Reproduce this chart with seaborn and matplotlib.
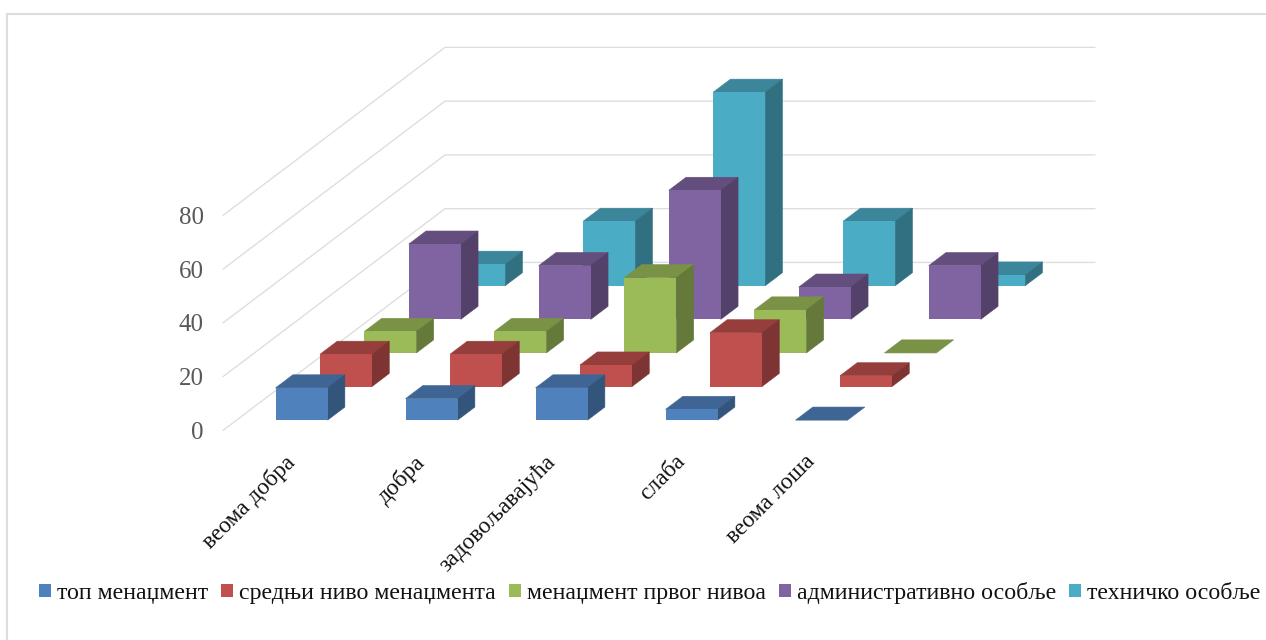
import numpy as np
import pandas as pd
import matplotlib
matplotlib.use("Agg")
import matplotlib.pyplot as plt
from matplotlib.patches import Patch, Rectangle
from matplotlib.transforms import ScaledTranslation
import seaborn as sns

categories = ["веома добра", "добра", "задовољавајућа", "слаба", "веома лоша"]
top_management = [12, 8, 12, 4, 0]
middle_management = [12, 12, 8, 20, 4]
first_level = [8, 8, 28, 16, 0]
admin_staff = [28, 20, 48, 12, 20]
technical_staff = [8, 24, 72, 24, 4]
series_names = ["топ менаџмент", "средњи ниво менаџмента", "менаџмент првог нивоа",
                "административно особље", "техничко особље"]
series_values = [top_management, middle_management, first_level, admin_staff, technical_staff]
series_colors = ["#4F81BD", "#C0504D", "#9BBB59", "#8064A2", "#4BACC6"]
y_ticks = [0, 20, 40, 60, 80]

sns.set_theme(style="white")
plt.rcParams["font.family"] = ["Liberation Serif", "DejaVu Serif"]

W, H = 1266, 640
fig = plt.figure(figsize=(W / 100, H / 100), dpi=100, facecolor="white")
ax = fig.add_axes([223 / W, (H - 430.4) / H, 872 / W, 383 / H])

# Oblique depth: one series step moves right (categories) and up (value units)
DX, DY = 44.4 / 130, 12.5
BAR_W, BAR_D = 0.4, 0.39
GRID = "#DDDDDD"


def project(cat, val, depth):
    return cat + depth * DX, val + depth * DY


def shade(color, k):
    return tuple(c * k for c in matplotlib.colors.to_rgb(color))


# Floor / wall gridlines
n_cat, n_ser = len(categories), len(series_names)
for v in y_ticks:
    xs, ys = project(np.array([0, 0, n_cat]), np.array([v, v, v]), np.array([0, n_ser, n_ser]))
    ax.plot(xs, ys, color=GRID, lw=0.95, zorder=0.5, clip_on=False, solid_joinstyle="miter")

# Bars painted from back to front
for s in range(n_ser - 1, -1, -1):
    vals = np.array(series_values[s], dtype=float)
    color = series_colors[s]
    base_z = 2 + (n_ser - s) * 2
    d0 = s + 0.5 - BAR_D / 2
    d1 = d0 + BAR_D
    cats = np.arange(n_cat) + 0.5
    left = cats - BAR_W / 2
    right = cats + BAR_W / 2

    for l, r, v in zip(left, right, vals):
        tx, ty = project(np.array([l, r, r, l]), np.full(4, v), np.array([d0, d0, d1, d1]))
        ax.fill(tx, ty, color=shade(color, 0.78), lw=0.4, zorder=base_z, clip_on=False)
        if v > 0:
            sx, sy = project(np.array([r, r, r, r]), np.array([0, v, v, 0]), np.array([d0, d0, d1, d1]))
            ax.fill(sx, sy, color=shade(color, 0.65), lw=0.4, zorder=base_z, clip_on=False)

    fx, fy = project(cats, 0.0, d0)
    before = len(ax.patches)
    frame = pd.DataFrame({"x": fx, "v": vals})
    sns.barplot(data=frame, x="x", y="v", native_scale=True, width=BAR_W, color=color,
                saturation=1, errorbar=None, bottom=fy, linewidth=0, legend=False, ax=ax)
    for p in ax.patches[before:]:
        p.set_zorder(base_z + 1)
        p.set_clip_on(False)

ax.set_xlim(0, n_cat + n_ser * DX)
ax.set_ylim(0, y_ticks[-1] + n_ser * DY)
ax.set_xlabel("")
ax.set_ylabel("")
for sp in ax.spines.values():
    sp.set_visible(False)
ax.patch.set_alpha(0)

ax.set_yticks(y_ticks)
ax.set_yticklabels([str(t) for t in y_ticks], fontsize=18, color="#595959")
ax.tick_params(axis="y", length=0, pad=14)

ax.set_xticks(np.arange(n_cat) + 0.5)
ax.set_xticklabels(categories, rotation=45, ha="right", va="top",
                   rotation_mode="anchor", fontsize=16.8, color="#111111")
ax.tick_params(axis="x", length=0, pad=15)
shift = ScaledTranslation(-3.5 / 100, 0, fig.dpi_scale_trans)
for lab in ax.get_xticklabels():
    lab.set_transform(lab.get_transform() + shift)

handles = [Patch(facecolor=c, edgecolor="none", label=n) for c, n in zip(series_colors, series_names)]
fig.legend(handles=handles, loc="center left", bbox_to_anchor=(39 / W, (H - 593) / H), ncol=5,
           frameon=False, fontsize=17.2, handlelength=0.5, handleheight=0.5, handletextpad=0.25,
           columnspacing=0.55, borderaxespad=0, borderpad=0, labelcolor="#111111")

# Chart frame
fig.add_artist(Rectangle((7.5 / W, -0.1), 1.2, (H - 13.5) / H + 0.1, transform=fig.transFigure,
                         facecolor="none", edgecolor=GRID, lw=1.5))

fig.savefig("out.png", dpi=100)
